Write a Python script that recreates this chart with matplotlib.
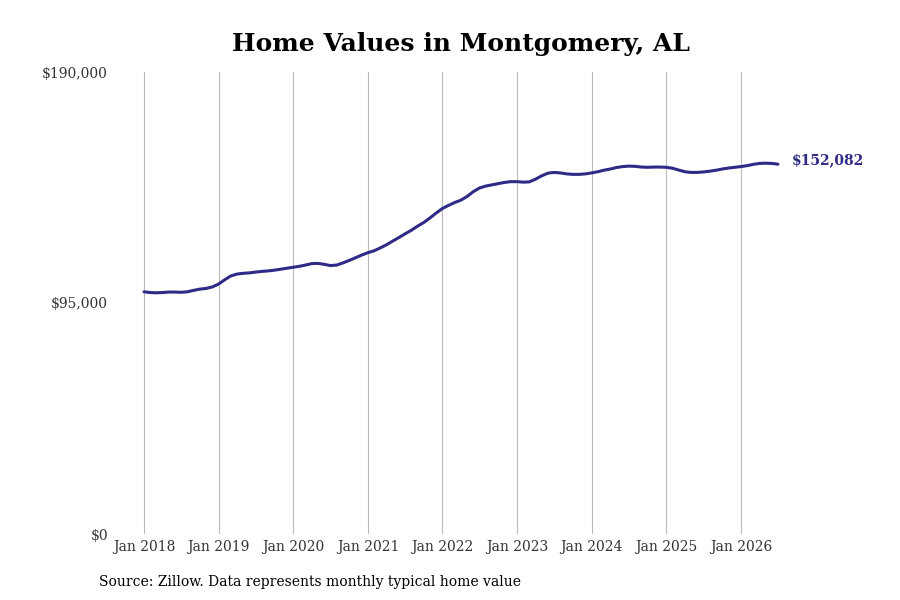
import matplotlib.pyplot as plt
import matplotlib.dates as mdates
import matplotlib.ticker as mticker
import numpy as np
import pandas as pd

plt.switch_backend('Agg')
plt.rcParams['font.family'] = ['DejaVu Serif']

# Monthly typical home value, Jan 2018 - Jul 2026 (thousands of dollars)
values_k = [
    99.6, 99.3, 99.2, 99.3, 99.5, 99.5, 99.4, 99.6, 100.2, 100.7, 101.0, 101.6,
    102.8, 104.6, 106.1, 106.9, 107.2, 107.4, 107.7, 108.0, 108.2, 108.5, 108.9, 109.3,
    109.7, 110.1, 110.6, 111.2, 111.3, 110.9, 110.4, 110.6, 111.5, 112.5, 113.6, 114.7,
    115.7, 116.5, 117.6, 118.9, 120.4, 121.9, 123.4, 124.9, 126.6, 128.1, 130.0, 132.0,
    133.9, 135.2, 136.3, 137.3, 138.8, 140.8, 142.3, 143.1, 143.6, 144.1, 144.6, 144.9,
    144.9, 144.7, 144.8, 145.9, 147.3, 148.4, 148.7, 148.5, 148.1, 147.9, 147.9, 148.1,
    148.5, 149.0, 149.6, 150.1, 150.7, 151.1, 151.3, 151.2, 150.9, 150.8, 150.9, 150.9,
    150.8, 150.4, 149.7, 149.0, 148.7, 148.7, 148.9, 149.2, 149.6, 150.1, 150.5, 150.8,
    151.1, 151.5, 152.0, 152.4, 152.5, 152.4, 152.082,
]
dates = pd.date_range('2018-01-01', periods=len(values_k), freq='MS')
values = np.array(values_k) * 1000
last_label = '$152,082'

line_color = '#2e2a85'

fig = plt.figure(figsize=(9, 6), dpi=100)
ax = fig.add_axes([115 / 900, 0.11, (790 - 115) / 900, 0.77])

ax.plot(dates, values, color=line_color, linewidth=2.2, solid_capstyle='round')

# x limits so that Jan 2018 / Jan 2026 land where the reference has them
start = pd.Timestamp('2018-01-01')
px_per_day = (741 - 144) / (pd.Timestamp('2026-01-01') - start).days
ax.set_xlim(start - pd.Timedelta(days=(144 - 115) / px_per_day),
            start + pd.Timedelta(days=(790 - 144) / px_per_day))
ax.set_ylim(0, 190000)

ax.xaxis.set_major_locator(mdates.YearLocator())
ax.xaxis.set_major_formatter(mdates.DateFormatter('Jan %Y'))
ax.yaxis.set_major_locator(mticker.FixedLocator([0, 95000, 190000]))
ax.yaxis.set_major_formatter(mticker.FuncFormatter(lambda v, p: f'${v:,.0f}'))

ax.grid(axis='x', color='#bbbbbb', linewidth=0.8)
ax.grid(axis='y', visible=False)
for s in ax.spines.values():
    s.set_visible(False)
ax.tick_params(axis='x', length=0, labelsize=10, labelcolor='#333333', pad=4)
ax.tick_params(axis='y', length=0, labelsize=10, labelcolor='#333333', pad=5)
for lbl in ax.get_yticklabels():
    lbl.set_verticalalignment('center_baseline')

ax.annotate(last_label, xy=(dates[-1], values[-1]), xytext=(10, 3),
            textcoords='offset points', color=line_color, fontsize=10,
            fontweight='bold', va='center', ha='left')

fig.text(0.512, 0.926, 'Home Values in Montgomery, AL', ha='center', va='center',
         fontsize=18, fontweight='bold', color='black')
fig.text(99 / 900, 0.03, 'Source: Zillow. Data represents monthly typical home value',
         ha='left', va='center', fontsize=10, color='black')

fig.savefig('out.png', dpi=100)
